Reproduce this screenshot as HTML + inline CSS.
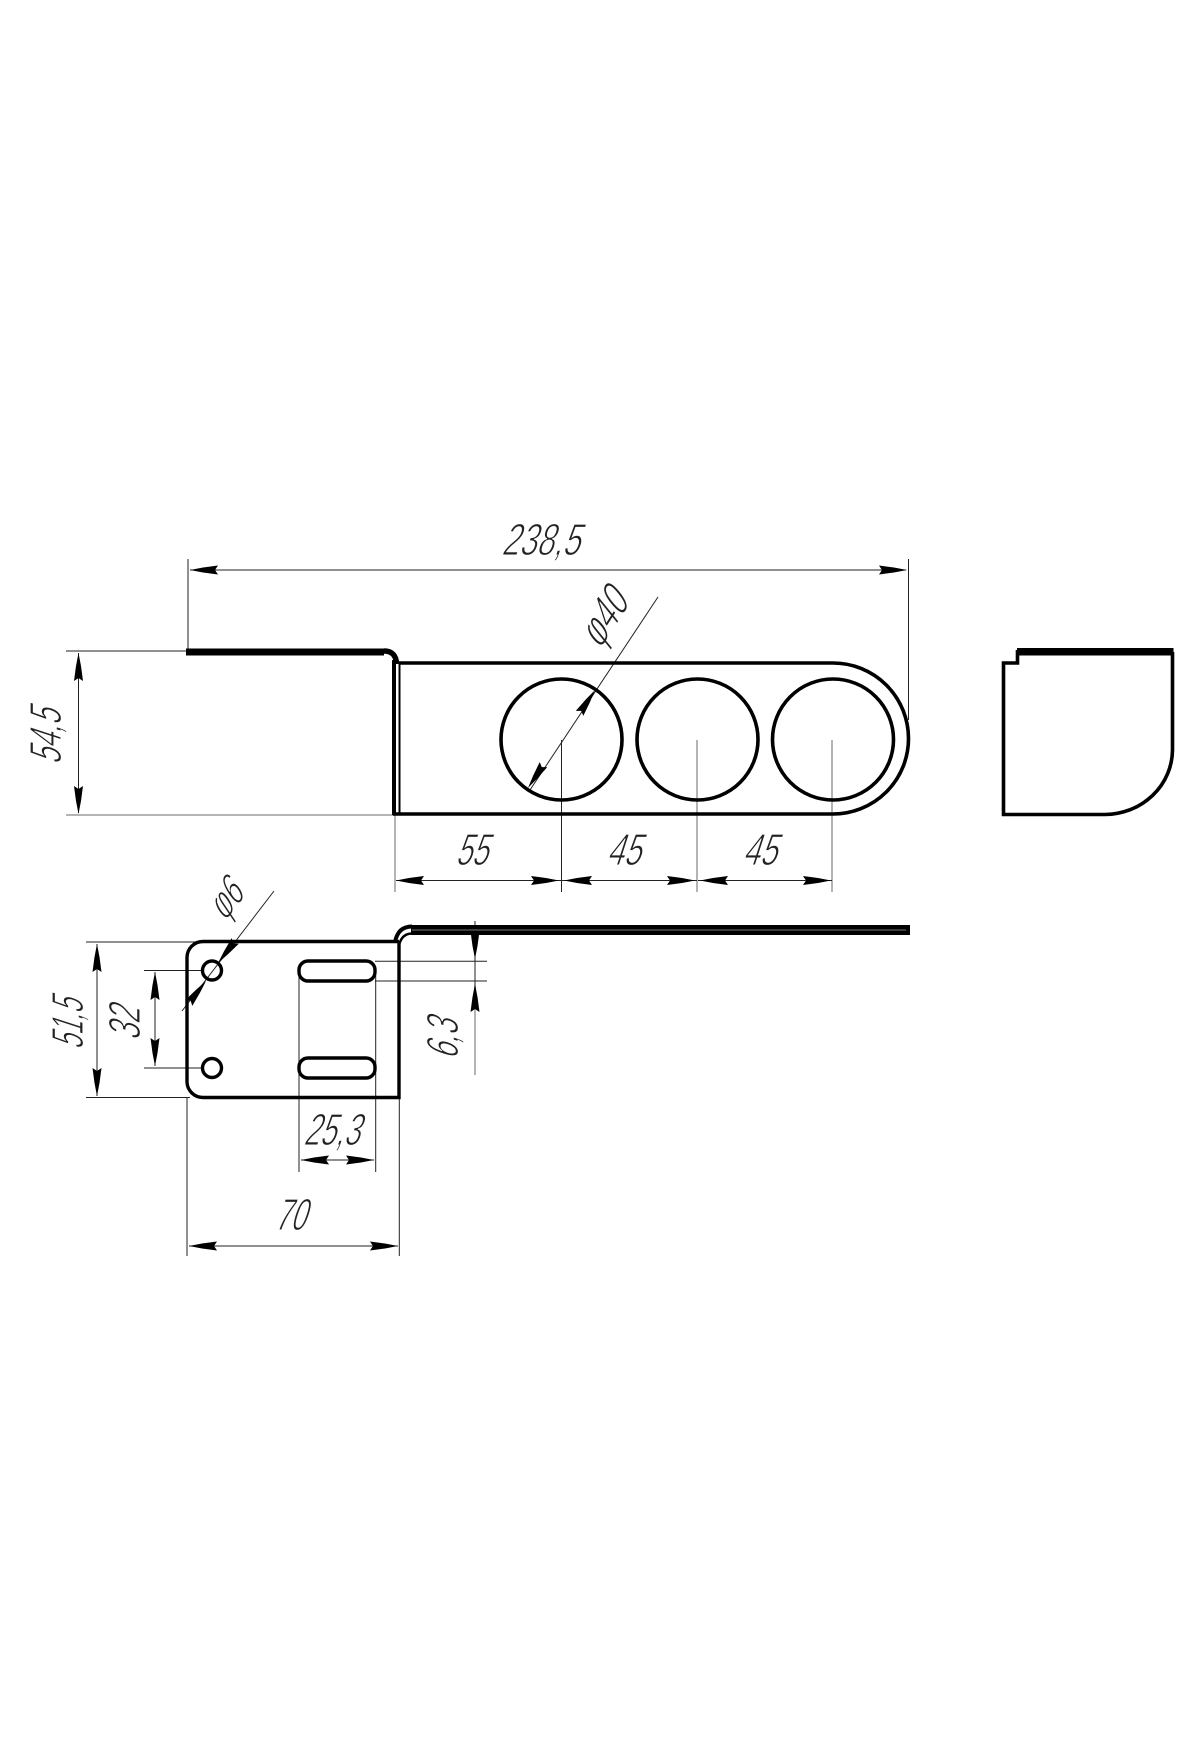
<!DOCTYPE html>
<html><head><meta charset="utf-8"><style>
html,body{margin:0;padding:0;background:#fff}
svg{display:block}
text{font-family:"Liberation Sans",sans-serif;fill:#222;stroke:#fff;stroke-width:1.1px;paint-order:fill stroke;font-size:45px}
</style></head><body>
<svg width="1200" height="1760" viewBox="0 0 1200 1760" xmlns="http://www.w3.org/2000/svg">
<defs><polygon id="a" points="0,0 -13,-2.500 -28,-4.500 -25,0 -28,4.500 -13,2.500" fill="#000"/></defs>
<rect width="1200" height="1760" fill="#fff"/>
<!-- grey extensions -->
<g stroke="#b4b4b4" stroke-width="2" fill="none">
<path d="M66 815H394"/><path d="M395 815V892"/><path d="M697 740V892"/><path d="M832 740V892"/>
<path d="M475 985V1075"/>
</g>
<!-- thin lines -->
<g stroke="#222" stroke-width="1" fill="none">
<path d="M188 559V651M908.5 559V720M190 570H906"/>
<path d="M66 651H187M78.5 653V813"/>
<path d="M561.500 740V892M396 880.500H561M562 880.500H697M698 880.500H832"/>
<path d="M658 597L530 790"/>
<path d="M86 942H200M86 1097.500H190M97 944V1096"/>
<path d="M144 970.500H202M144 1068H202M155 972V1066"/>
<path d="M274 891L182 1011"/>
<path d="M299 975V1172M375.700 975V1172M301 1160H374"/>
<path d="M187 1097V1256M399.300 1097V1256M189 1246H398"/>
<path d="M375 961.300H487M375 981H487M475 921V985"/>
</g>
<!-- arrows -->
<use href="#a" transform="translate(190,570) rotate(180)"/>
<use href="#a" transform="translate(907,570)"/>
<use href="#a" transform="translate(78.500,653) rotate(-90)"/>
<use href="#a" transform="translate(78.500,814) rotate(90)"/>
<use href="#a" transform="translate(396,880.500) rotate(180)"/>
<use href="#a" transform="translate(559,880.500)"/>
<use href="#a" transform="translate(564,880.500) rotate(180)"/>
<use href="#a" transform="translate(695,880.500)"/>
<use href="#a" transform="translate(700,880.500) rotate(180)"/>
<use href="#a" transform="translate(831,880.500)"/>
<use href="#a" transform="translate(528,788) rotate(123.500)"/>
<use href="#a" transform="translate(595,690) rotate(-56.500)"/>
<use href="#a" transform="translate(97,944) rotate(-90)"/>
<use href="#a" transform="translate(97,1096) rotate(90)"/>
<use href="#a" transform="translate(155,972) rotate(-90)"/>
<use href="#a" transform="translate(155,1066) rotate(90)"/>
<use href="#a" transform="translate(218,963) rotate(128)"/>
<use href="#a" transform="translate(206,981) rotate(308)"/>
<use href="#a" transform="translate(301,1160) rotate(180)"/>
<use href="#a" transform="translate(374,1160)"/>
<use href="#a" transform="translate(189,1246) rotate(180)"/>
<use href="#a" transform="translate(398,1246)"/>
<use href="#a" transform="translate(475,959) rotate(90)"/>
<use href="#a" transform="translate(475,984) rotate(-90)"/>
<!-- top view -->
<path d="M186 652H384" stroke="#000" stroke-width="7" fill="none"/>
<path d="M384 651Q396 651 396.500 664" stroke="#000" stroke-width="5.500" fill="none"/>
<path d="M394 660V815" stroke="#000" stroke-width="4" fill="none"/>
<path d="M399.500 663V815" stroke="#000" stroke-width="2" fill="none"/>
<path d="M399 663H833A75.500 75.500 0 0 1 833 814H393" stroke="#000" stroke-width="3.600" fill="none"/>
<g fill="none" stroke="#000" stroke-width="3.600">
<circle cx="561.500" cy="739.500" r="60.500"/>
<circle cx="697.500" cy="739.500" r="60.500"/>
<circle cx="833" cy="739.500" r="60.500"/>
</g>
<!-- side view -->
<path d="M1172.500 652V750A68 65 0 0 1 1105 814.500H1003.500V663H1017.500V650" stroke="#000" stroke-width="3.600" fill="none"/>
<rect x="1017" y="648" width="156.500" height="7.500" fill="#000"/>
<!-- bottom view -->
<path d="M399 941.500H203A16 16 0 0 0 187 957.500V1082A16 16 0 0 0 203 1097.500H399V941" stroke="#000" stroke-width="3.400" fill="none"/>
<path d="M395 942Q398 926.500 412 926.500" stroke="#000" stroke-width="4" fill="none"/>
<path d="M399 945Q402 933.500 412 933.500" stroke="#000" stroke-width="2.500" fill="none"/>
<rect x="411" y="925" width="499" height="10" fill="#000"/>
<path d="M412 930H906" stroke="#777" stroke-width="1"/>
<g fill="none" stroke="#000" stroke-width="3.400">
<circle cx="212" cy="970.500" r="9.500"/>
<circle cx="212" cy="1068" r="9.500"/>
<rect x="299" y="961" width="76" height="20" rx="9"/>
<rect x="299" y="1058" width="76" height="20" rx="9"/>
</g>
<!-- labels -->
<text textLength="78" lengthAdjust="spacingAndGlyphs" transform="translate(501,555) skewX(-18)">238,5</text>
<text textLength="55" lengthAdjust="spacingAndGlyphs" transform="translate(61,765) rotate(-90) skewX(-18)">54,5</text>
<text textLength="32" lengthAdjust="spacingAndGlyphs" transform="translate(455,865) skewX(-18)">55</text>
<text textLength="34" lengthAdjust="spacingAndGlyphs" transform="translate(606,865) skewX(-18)">45</text>
<text textLength="34" lengthAdjust="spacingAndGlyphs" transform="translate(742,865) skewX(-18)">45</text>
<text textLength="56" lengthAdjust="spacingAndGlyphs" transform="translate(600,650) rotate(-57) skewX(-18)">φ40</text>
<text textLength="50" lengthAdjust="spacingAndGlyphs" transform="translate(83,1050) rotate(-90) skewX(-18)">51,5</text>
<text textLength="33" lengthAdjust="spacingAndGlyphs" transform="translate(140,1041) rotate(-90) skewX(-18)">32</text>
<text textLength="40" lengthAdjust="spacingAndGlyphs" transform="translate(458,1060) rotate(-90) skewX(-18)">6,3</text>
<text textLength="56" lengthAdjust="spacingAndGlyphs" transform="translate(303,1145) skewX(-18)">25,3</text>
<text textLength="31" lengthAdjust="spacingAndGlyphs" transform="translate(274,1230) skewX(-18)">70</text>
<text textLength="34" lengthAdjust="spacingAndGlyphs" style="font-size:42px" transform="translate(225,922) rotate(-52) skewX(-18)">φ6</text>
</svg>
</body></html>
